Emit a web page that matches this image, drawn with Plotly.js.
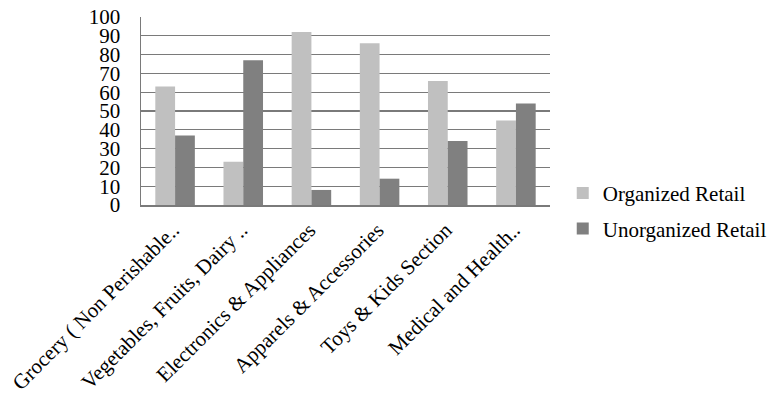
<!DOCTYPE html>
<html>
<head>
<meta charset="utf-8">
<script src="https://cdn.plot.ly/plotly-3.0.1.min.js"></script>
<style>
  html, body { margin: 0; padding: 0; background: #fff; }
  #chart { width: 773px; height: 398px; }
</style>
</head>
<body>
<div id="chart"></div>
<script>
// Retail format share by product category (%)
const categories = [
  "Grocery ( Non Perishable..",
  "Vegetables, Fruits, Dairy ..",
  "Electronics & Appliances",
  "Apparels & Accessories",
  "Toys & Kids Section",
  "Medical and Health.."
];
const organizedRetail = [63, 23, 92, 86, 66, 45];
const unorganizedRetail = [37, 77, 8, 14, 34, 54];
const yTicks = [0, 10, 20, 30, 40, 50, 60, 70, 80, 90, 100];

const serif = "'Times New Roman', 'Liberation Serif', serif";

const traces = [
  {
    type: "bar",
    name: "Organized Retail",
    x: categories,
    y: organizedRetail,
    marker: { color: "#c0c0c0" },
    legendgroup: "org"
  },
  {
    type: "bar",
    name: "Unorganized Retail",
    x: categories,
    y: unorganizedRetail,
    marker: { color: "#808080" },
    legendgroup: "unorg"
  }
];

const layout = {
  width: 773,
  height: 398,
  margin: { l: 141, r: 223, t: 17, b: 193 },
  paper_bgcolor: "#ffffff",
  plot_bgcolor: "#ffffff",
  barmode: "group",
  bargap: 0.42,
  bargroupgap: 0,
  font: { family: serif, size: 21, color: "#000000" },
  showlegend: true,
  legend: {
    xref: "container",
    yref: "container",
    x: 0.728,
    xanchor: "left",
    y: 0.47,
    yanchor: "middle",
    traceorder: "grouped",
    tracegroupgap: 5,
    font: { family: serif, size: 21, color: "#000000" },
    bgcolor: "rgba(0,0,0,0)"
  },
  xaxis: {
    type: "category",
    tickangle: -45,
    showline: true,
    linecolor: "#7a7a7a",
    linewidth: 1.5,
    showgrid: false,
    ticks: "",
    ticklabelstandoff: 3,
    ticklabelshift: -2,
    tickfont: { family: serif, size: 21, color: "#000000" },
    automargin: false
  },
  yaxis: {
    range: [0, 100],
    tickvals: yTicks,
    ticktext: yTicks.map(String),
    showline: true,
    linecolor: "#7a7a7a",
    linewidth: 1.5,
    showgrid: true,
    gridcolor: "#7a7a7a",
    gridwidth: 1.3,
    zeroline: false,
    ticks: "",
    ticklabelstandoff: 15,
    tickfont: { family: serif, size: 21, color: "#000000" },
    automargin: false
  }
};

Plotly.newPlot("chart", traces, layout, { staticPlot: true, displayModeBar: false });
</script>
</body>
</html>
